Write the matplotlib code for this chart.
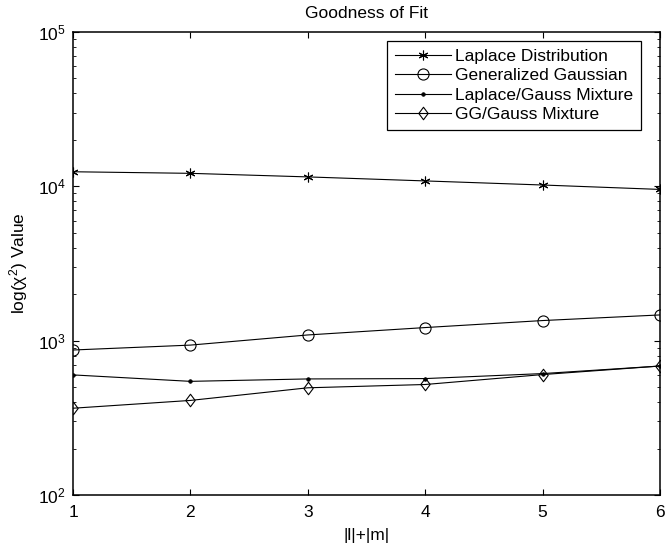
import matplotlib
matplotlib.use("Agg")
import matplotlib.pyplot as plt
from matplotlib.ticker import LogLocator, FixedLocator, NullLocator, LogFormatterSciNotation
from matplotlib.path import Path

plt.rcParams['font.family'] = ['Liberation Sans', 'DejaVu Sans']
plt.rcParams['mathtext.fontset'] = 'custom'
plt.rcParams['mathtext.rm'] = 'Liberation Sans'
plt.rcParams['mathtext.it'] = 'Liberation Sans'
plt.rcParams['mathtext.default'] = 'regular'

# ---- data ----
orders = [1, 2, 3, 4, 5, 6]
laplace = [12430, 12140, 11510, 10840, 10200, 9550]
gen_gauss = [870, 936, 1089, 1216, 1350, 1468]
laplace_gauss_mix = [600, 545, 565, 568, 612, 685]
gg_gauss_mix = [365, 410, 495, 520, 603, 685]
series_labels = ['Laplace Distribution', 'Generalized Gaussian',
                 'Laplace/Gauss Mixture', 'GG/Gauss Mixture']
title = 'Goodness of Fit'
xlabel = '|l|+|m|'
ylabel = r'log($\chi^2$) Value'

W, H = 665, 550
fig = plt.figure(figsize=(W / 100, H / 100), dpi=100)
ax = fig.add_axes([73 / W, 1 - 495 / H, (660 - 73) / W, (495 - 32) / H])

diamond = Path([(0, 1), (0.75, 0), (0, -1), (-0.75, 0), (0, 1)],
               [Path.MOVETO, Path.LINETO, Path.LINETO, Path.LINETO, Path.CLOSEPOLY])

lw = 0.8
ax.plot(orders, laplace, color='k', lw=lw, marker=(6, 2, 0), ms=7, mew=0.8,
        label=series_labels[0])
ax.plot(orders, gen_gauss, color='k', lw=lw, marker='o', ms=8, mfc='none', mew=0.8,
        label=series_labels[1])
ax.plot(orders, laplace_gauss_mix, color='k', lw=lw, marker='o', ms=2.6, mfc='k', mew=0.5,
        label=series_labels[2])
ax.plot(orders, gg_gauss_mix, color='k', lw=lw, marker=diamond, ms=9, mfc='none', mew=0.8,
        label=series_labels[3])

ax.set_yscale('log')
ax.set_xlim(1, 6)
ax.set_ylim(1e2, 1e5)
ax.xaxis.set_major_locator(FixedLocator(orders))
ax.xaxis.set_minor_locator(NullLocator())
ax.yaxis.set_major_locator(LogLocator(base=10, numticks=10))
ax.yaxis.set_minor_locator(LogLocator(base=10, subs=range(2, 10), numticks=20))
ax.yaxis.set_major_formatter(LogFormatterSciNotation())

for s in ax.spines.values():
    s.set_linewidth(1.1)
ax.tick_params(which='both', direction='in', top=True, right=True, labelsize=12.5, colors='k')
ax.tick_params(which='major', length=4.5, width=0.8, pad=5)
ax.tick_params(axis='x', which='major', pad=7)
ax.tick_params(which='minor', length=2.2, width=0.6)

ax.set_title(title, fontsize=12.5, pad=10)
ax.set_xlabel(xlabel, fontsize=12.5, labelpad=6)
ax.set_ylabel(ylabel, fontsize=12.5, labelpad=6)

leg = ax.legend(loc='upper right', bbox_to_anchor=(641 / W, 1 - 41 / H),
                bbox_transform=fig.transFigure, borderaxespad=0, fontsize=12.5,
                fancybox=False, framealpha=1, edgecolor='k', handlelength=3.2,
                handletextpad=0.25, labelspacing=0.25, borderpad=0.45)
leg.get_frame().set_linewidth(0.9)

fig.savefig('out.png', dpi=100)
